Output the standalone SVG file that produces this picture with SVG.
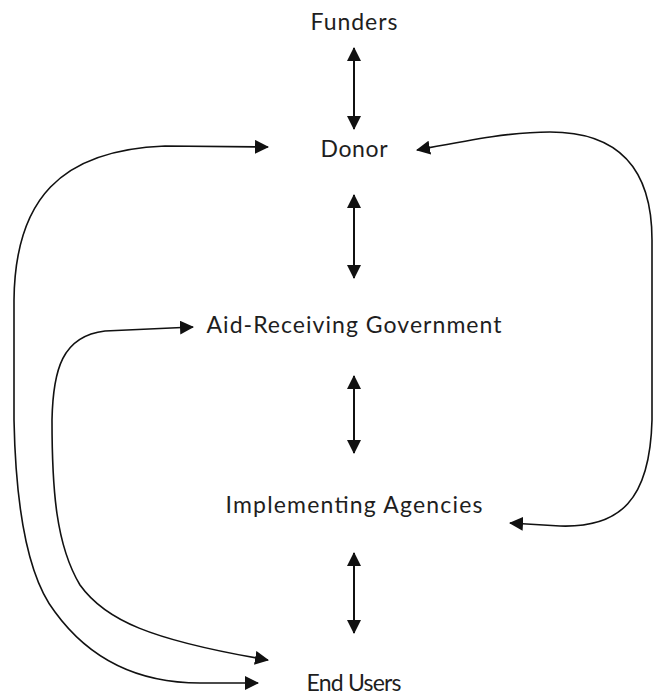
<svg xmlns="http://www.w3.org/2000/svg" width="653" height="695" viewBox="0 0 653 695">
  <style>
    .label { font-family: Lato, "Open Sans", "Liberation Sans", sans-serif; font-size: 23px; fill: #1e1e1e; text-anchor: middle; }
    .link { fill: none; stroke: #111; stroke-width: 2; }
    .flow { fill: none; stroke: #111; stroke-width: 1.6; }
  </style>
  <defs>
    <marker id="head" viewBox="0 0 14 14" refX="13" refY="7" markerWidth="14" markerHeight="14" markerUnits="userSpaceOnUse" orient="auto-start-reverse">
      <path d="M0,0 L14,7 L0,14 Z" fill="#111"/>
    </marker>
  </defs>
  <rect width="653" height="695" fill="#fff"/>

  <g id="connectors">
    <!-- vertical two-way links between the levels -->
    <line class="link" x1="354" y1="48" x2="354" y2="129" marker-start="url(#head)" marker-end="url(#head)"/>
    <line class="link" x1="354" y1="195" x2="354" y2="278" marker-start="url(#head)" marker-end="url(#head)"/>
    <line class="link" x1="354" y1="376" x2="354" y2="453" marker-start="url(#head)" marker-end="url(#head)"/>
    <line class="link" x1="354" y1="553" x2="354" y2="633" marker-start="url(#head)" marker-end="url(#head)"/>
    <!-- outer loop: Donor and End Users -->
    <path class="flow" d="M268,147 L165,146 C60,150 15,200 14,300 L14,420 C16,520 30,580 55,612 C90,660 140,683 200,683 L258,683" marker-start="url(#head)" marker-end="url(#head)"/>
    <!-- inner loop: Aid-Receiving Government and End Users -->
    <path class="flow" d="M193,327 L105,331 C62,336 53,370 52,420 C52,490 56,545 80,585 C105,620 150,640 268,660" marker-start="url(#head)" marker-end="url(#head)"/>
    <!-- right loop: Donor and Implementing Agencies -->
    <path class="flow" d="M417,150 C470,140 510,132 550,132 C620,132 652,170 652,240 L652,420 C650,500 620,528 560,526 L510,523" marker-start="url(#head)" marker-end="url(#head)"/>
  </g>

  <g id="funders"><text class="label" x="354" y="30" textLength="87">Funders</text></g>
  <g id="donor"><text class="label" x="354" y="157" textLength="67">Donor</text></g>
  <g id="government"><text class="label" x="354" y="333" textLength="295">Aid-Receiving Government</text></g>
  <g id="agencies"><text class="label" x="354" y="513" textLength="257">Implementing Agencies</text></g>
  <g id="end-users"><text class="label" x="354" y="691" textLength="95">End Users</text></g>
</svg>
